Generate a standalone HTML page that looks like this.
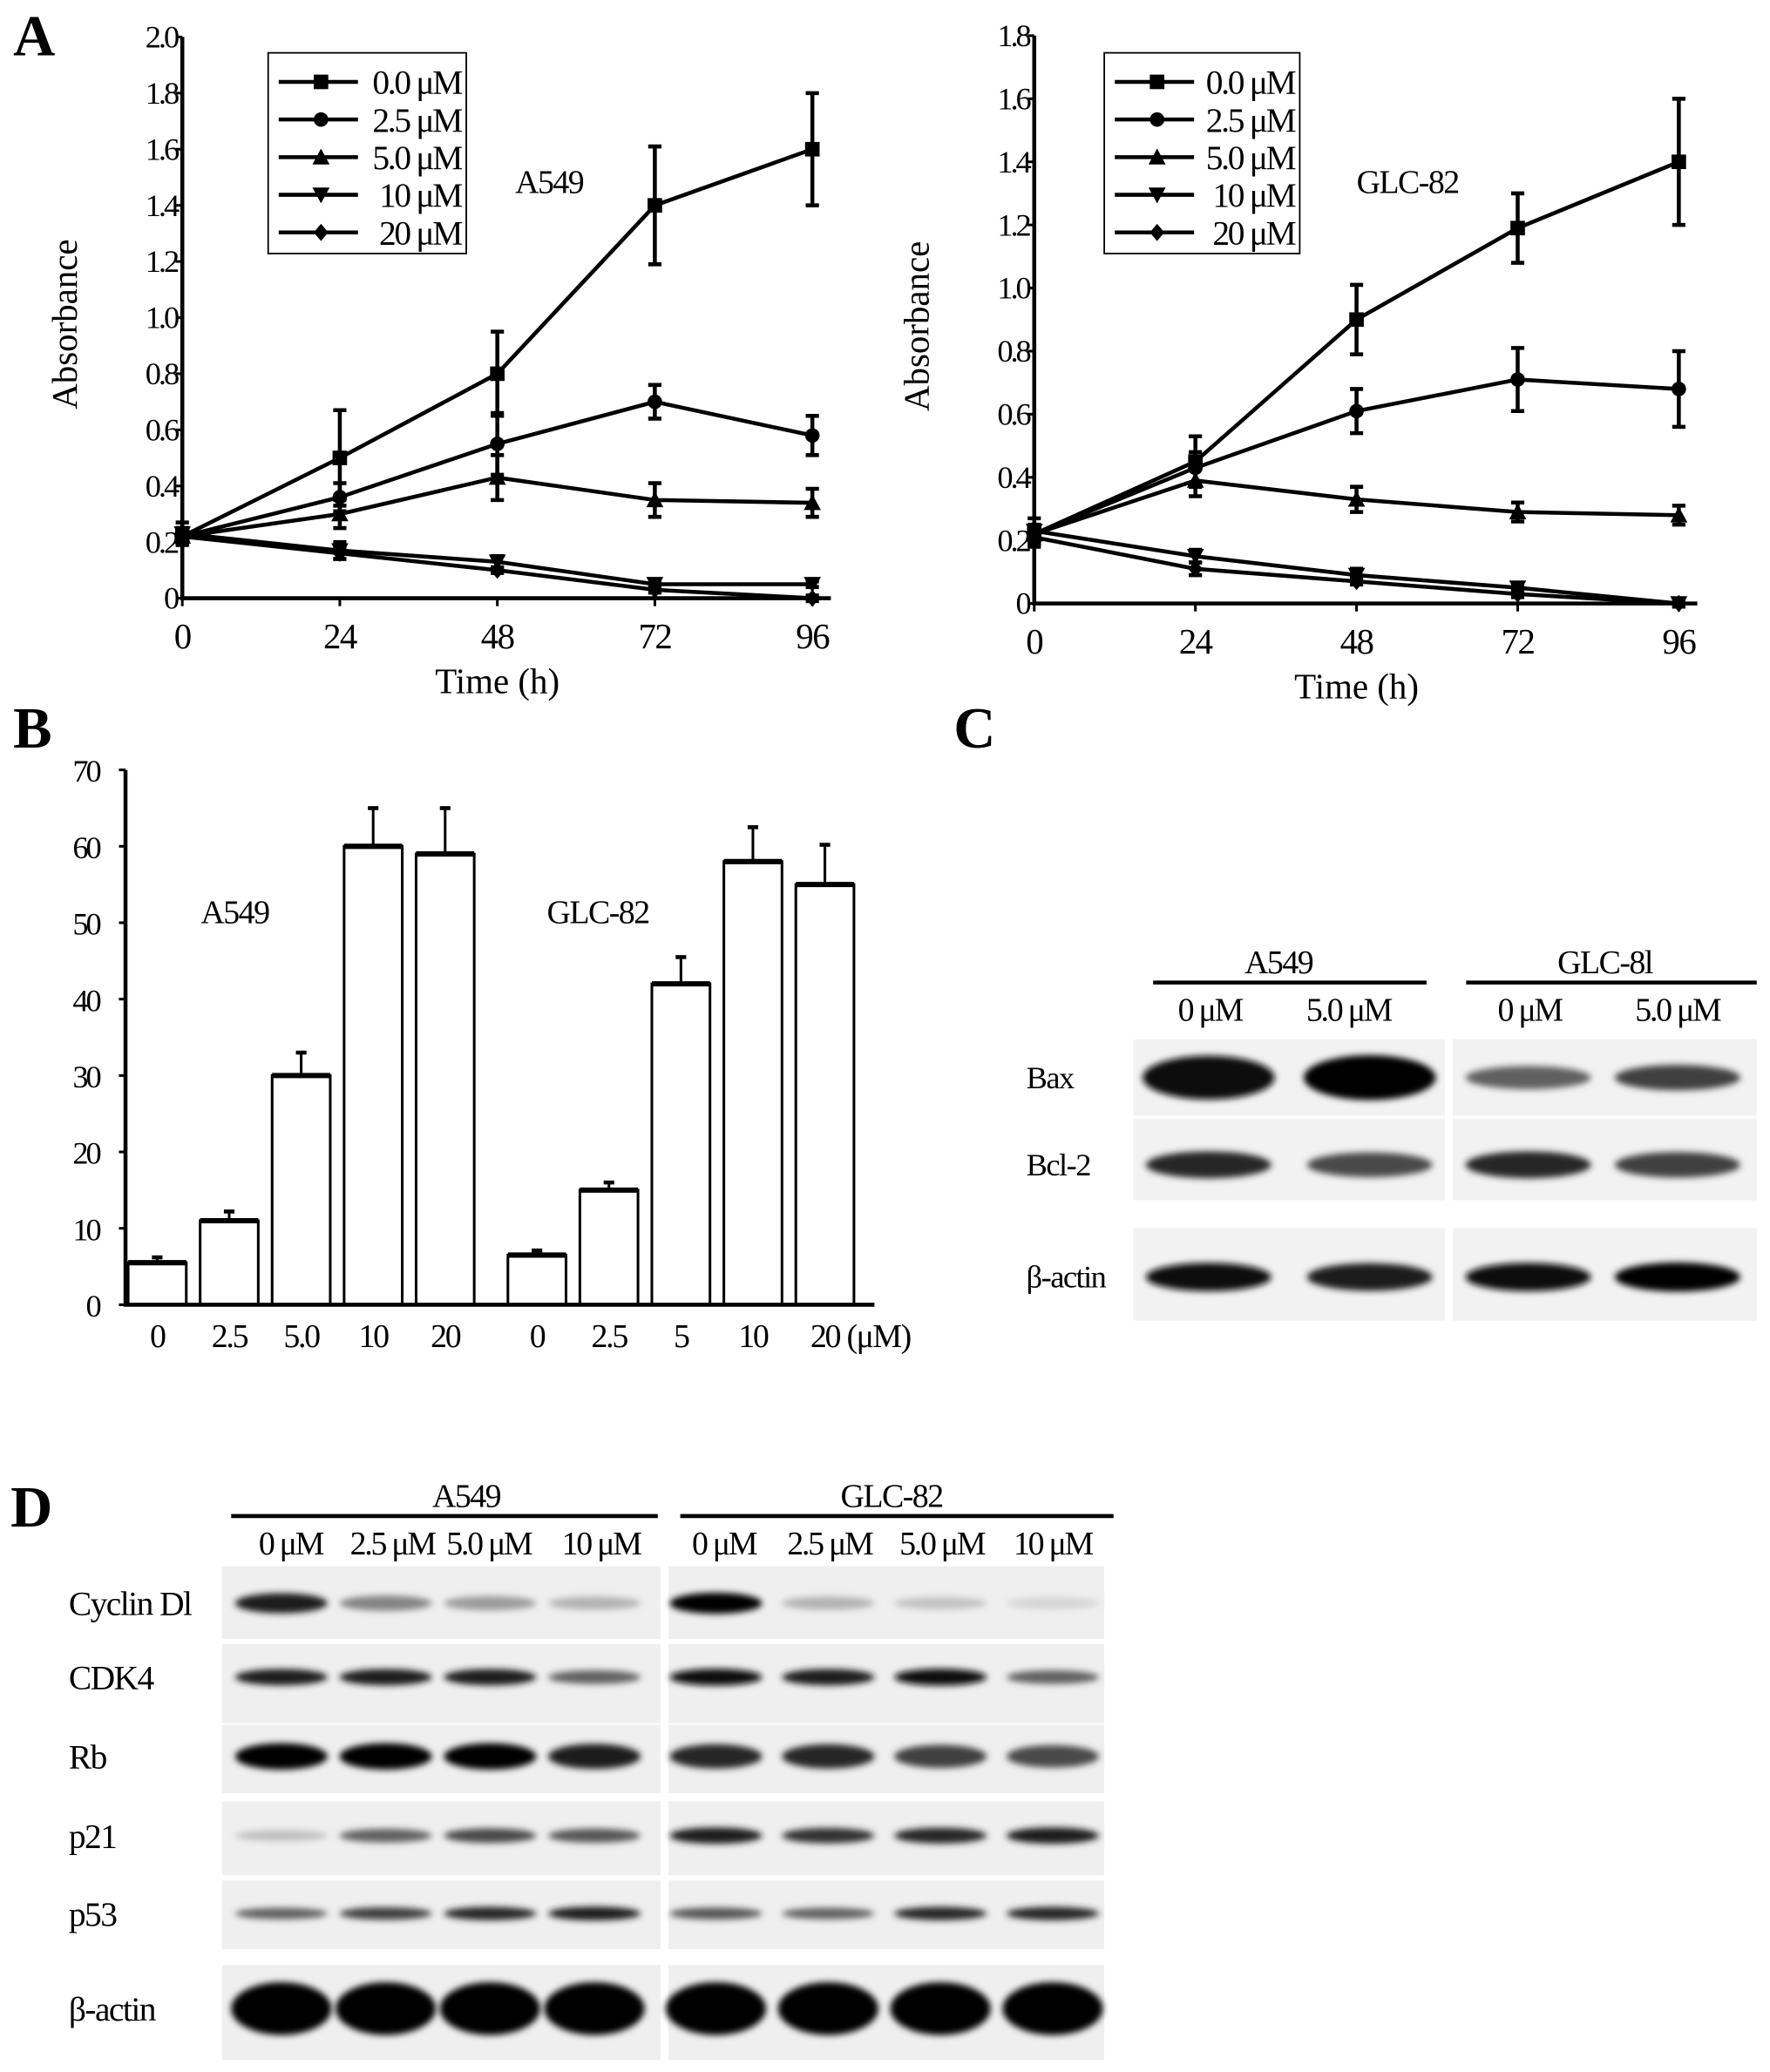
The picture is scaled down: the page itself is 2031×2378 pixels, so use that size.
<!DOCTYPE html>
<html><head><meta charset="utf-8">
<style>
html,body{margin:0;padding:0;background:#fff}
svg{display:block}
text{font-family:"Liberation Serif",serif;fill:#000}
</style></head>
<body>
<svg id="fig" width="2031" height="2378" viewBox="0 0 1340 1569" xmlns="http://www.w3.org/2000/svg">
<defs>
<filter id="blur" x="-20%" y="-60%" width="140%" height="220%"><feGaussianBlur stdDeviation="2.5"/></filter>
</defs>
</svg>
<script>
// ---------- Panel A data ----------
const timeCats = [0, 24, 48, 72, 96];
const doseLabels = ["0.0 μM", "2.5 μM", "5.0 μM", "10 μM", "20 μM"];
const markers = ["square", "circle", "up", "down", "diamond"];
const a549_d0 = [0.22, 0.50, 0.80, 1.40, 1.60];
const a549_d0_err = [0.03, 0.17, 0.15, 0.21, 0.20];
const a549_d25 = [0.22, 0.36, 0.55, 0.70, 0.58];
const a549_d25_err = [0.02, 0.05, 0.11, 0.06, 0.07];
const a549_d5 = [0.22, 0.30, 0.43, 0.35, 0.34];
const a549_d5_err = [0.02, 0.05, 0.08, 0.06, 0.05];
const a549_d10 = [0.23, 0.17, 0.13, 0.05, 0.05];
const a549_d10_err = [0.04, 0.03, 0.02, 0.01, 0.01];
const a549_d20 = [0.22, 0.16, 0.10, 0.03, 0.0];
const a549_d20_err = [0.03, 0.02, 0.01, 0.01, 0.01];
const glc_d0 = [0.22, 0.45, 0.90, 1.19, 1.40];
const glc_d0_err = [0.03, 0.08, 0.11, 0.11, 0.20];
const glc_d25 = [0.22, 0.43, 0.61, 0.71, 0.68];
const glc_d25_err = [0.02, 0.05, 0.07, 0.10, 0.12];
const glc_d5 = [0.22, 0.39, 0.33, 0.29, 0.28];
const glc_d5_err = [0.02, 0.05, 0.04, 0.03, 0.03];
const glc_d10 = [0.23, 0.15, 0.09, 0.05, 0.0];
const glc_d10_err = [0.04, 0.02, 0.02, 0.01, 0.01];
const glc_d20 = [0.21, 0.11, 0.07, 0.03, 0.0];
const glc_d20_err = [0.03, 0.02, 0.01, 0.01, 0.01];
const aLeftTicks = ["0","0.2","0.4","0.6","0.8","1.0","1.2","1.4","1.6","1.8","2.0"];
const aRightTicks = ["0","0.2","0.4","0.6","0.8","1.0","1.2","1.4","1.6","1.8"];
// ---------- Panel B data ----------
const bCats = ["0","2.5","5.0","10","20","0","2.5","5","10","20"];
const bValues = [5.5, 11, 30, 60, 59, 6.5, 15, 42, 58, 55];
const bErrors = [0.7, 1.2, 3, 5, 6, 0.6, 1, 3.5, 4.5, 5.2];
const bTicks = [0,10,20,30,40,50,60,70];
// ---------- Blot intensities ----------
const cRows = ["Bax","Bcl-2","β-actin"];
const cIntensity = [[0.95,1.0,0.6,0.75],[0.85,0.7,0.85,0.75],[0.95,0.9,0.95,1.0]];
const dRows = ["Cyclin Dl","CDK4","Rb","p21","p53","β-actin"];
const dIntensity = [
 [0.9,0.45,0.35,0.25, 1.0,0.25,0.18,0.1],
 [0.9,0.9,0.9,0.6, 0.95,0.9,0.95,0.6],
 [1.0,1.0,1.0,0.9, 0.85,0.85,0.75,0.7],
 [0.2,0.6,0.7,0.65, 0.9,0.8,0.85,0.9],
 [0.6,0.75,0.85,0.9, 0.65,0.6,0.85,0.85],
 [1.0,1.0,1.0,1.0, 1.0,1.0,1.0,1.0]];

const NS="http://www.w3.org/2000/svg";
const svg=document.getElementById('fig');
function el(tag,attrs,parent){const e=document.createElementNS(NS,tag);for(const k in attrs)e.setAttribute(k,attrs[k]);(parent||svg).appendChild(e);return e;}
function txt(x,y,s,size,anchor,parent,extra){const t=el('text',Object.assign({x:x,y:y,'font-size':size,'text-anchor':anchor||'middle'},extra||{}),parent);t.textContent=s;return t;}

[["A",10,42],["B",10,566],["C",722,566],["D",8,1156]].forEach(p=>{
 const t=txt(p[1],p[2],p[0],44,'start',svg,{'font-weight':'bold'});
 
 
});

function marker(g,type,x,y){
 const s=5.5;let m;
 if(type==='square')m=el('rect',{x:x-s,y:y-s,width:2*s,height:2*s},g);
 else if(type==='circle')m=el('circle',{cx:x,cy:y,r:s},g);
 else if(type==='up')m=el('polygon',{points:`${x},${y-s-1} ${x-s-1},${y+s} ${x+s+1},${y+s}`},g);
 else if(type==='down')m=el('polygon',{points:`${x},${y+s+1} ${x-s-1},${y-s} ${x+s+1},${y-s}`},g);
 else m=el('polygon',{points:`${x},${y-s-1} ${x+s},${y} ${x},${y+s+1} ${x-s},${y}`},g);
 m.setAttribute('fill','#000');
 return m;
}

function lineChart(opt){
 const g=el('g',{});
 
 
 const X=t=>opt.x0+(t-0)/96*(opt.x1-opt.x0);
 const Y=v=>opt.y0-v/opt.vmax*(opt.y0-opt.ytop);
 const ax=el('path',{d:`M${opt.x0},${opt.ytop} V${opt.y0} H${opt.x1+14}`,stroke:'#000','stroke-width':3,fill:'none'},g);
 
 
 opt.ticks.forEach((s,i)=>{
  const v=i*0.2;
  el('line',{x1:opt.x0-5,x2:opt.x0,y1:Y(v),y2:Y(v),stroke:'#000','stroke-width':2},g);
  const t=txt(opt.x0-4,Y(v)+8,s,24,'end',g,{'letter-spacing':'-2'});
  
  
 });
 timeCats.forEach(c=>{
  el('line',{x1:X(c),x2:X(c),y1:opt.y0,y2:opt.y0+6,stroke:'#000','stroke-width':2},g);
  const t=txt(X(c),opt.y0+38,String(c),27,'middle',g,{'letter-spacing':'-1'});
  
  
 });
 const xt=txt((opt.x0+opt.x1)/2,opt.y0+72,"Time (h)",27,'middle',g);
 
 
 const yt=txt(0,0,"Absorbance",27,'middle',g,{transform:`translate(${opt.x0-80},${(opt.y0+opt.ytop)/2+5}) rotate(-90)`});
 
 
 opt.series.forEach((s,si)=>{
  const sg=el('g',{},g);
  
  
  el('polyline',{points:s.v.map((v,i)=>X(timeCats[i])+','+Y(v)).join(' '),fill:'none',stroke:'#000','stroke-width':3},sg);
  s.v.forEach((v,i)=>{
   const x=X(timeCats[i]),top=Y(v+s.e[i]),bot=Y(v-s.e[i]);
   el('path',{d:`M${x},${top} V${bot} M${x-5},${top} H${x+5} M${x-5},${bot} H${x+5}`,stroke:'#000','stroke-width':3,fill:'none'},sg);
   marker(sg,markers[si],x,Y(v));
  });
 });
 const lg=el('g',{},g);
 
 
 el('rect',{x:opt.lx,y:40,width:opt.lw,height:152,fill:'#fff',stroke:'#000','stroke-width':1.2},lg);
 doseLabels.forEach((d,i)=>{
  const y=62+i*28.5;
  const eg=el('g',{},lg);
  
  
  el('line',{x1:opt.lx+8,x2:opt.lx+68,y1:y,y2:y,stroke:'#000','stroke-width':3},eg);
  marker(eg,markers[i],opt.lx+40,y);
  txt(opt.lx+opt.lw-4,y+9,d,26,'end',eg,{'letter-spacing':'-1.5'});
 });
 const lab=txt(opt.labx,146,opt.label,25,'start',g,{'letter-spacing':'-1'});
 
 
}

lineChart({name:'chart-a549-absorbance',x0:138,x1:615,y0:453,ytop:28,vmax:2.0,ticks:aLeftTicks,lx:203,lw:150,labx:390,label:'A549',
 series:[{v:a549_d0,e:a549_d0_err},{v:a549_d25,e:a549_d25_err},{v:a549_d5,e:a549_d5_err},{v:a549_d10,e:a549_d10_err},{v:a549_d20,e:a549_d20_err}]});
lineChart({name:'chart-glc82-absorbance',x0:783,x1:1271,y0:457,ytop:27,vmax:1.8,ticks:aRightTicks,lx:836,lw:148,labx:1027,label:'GLC-82',
 series:[{v:glc_d0,e:glc_d0_err},{v:glc_d25,e:glc_d25_err},{v:glc_d5,e:glc_d5_err},{v:glc_d10,e:glc_d10_err},{v:glc_d20,e:glc_d20_err}]});

// ---------- Panel B ----------
(function(){
 const g=el('g',{});
 
 
 const x0=95,y0=988,ytop=583,vmax=70;
 const Y=v=>y0-v/vmax*(y0-ytop);
 const bw=44, step=54.5, gap=15, start=97;
 const X=i=>start+i*step+(i>=5?gap:0);
 bTicks.forEach(v=>{
  el('line',{x1:x0-5,x2:x0,y1:Y(v),y2:Y(v),stroke:'#000','stroke-width':2},g);
  const t=txt(x0-20,Y(v)+9,String(v),24,'end',g,{'letter-spacing':'-2'});
  
  
 });
 bValues.forEach((v,i)=>{
  const bx=X(i);
  const eg=el('g',{},g);
  
  
  el('rect',{x:bx,y:Y(v),width:bw,height:y0-Y(v),fill:'#fff',stroke:'#000','stroke-width':2},eg);
  el('line',{x1:bx,x2:bx+bw,y1:Y(v),y2:Y(v),stroke:'#000','stroke-width':4},eg);
  el('line',{x1:bx+bw/2,x2:bx+bw/2,y1:Y(v),y2:Y(v+bErrors[i]),stroke:'#000','stroke-width':2},eg);
  el('line',{x1:bx+bw/2-4,x2:bx+bw/2+4,y1:Y(v+bErrors[i]),y2:Y(v+bErrors[i]),stroke:'#000','stroke-width':3},eg);
  const t=txt(bx+bw/2,y0+32,bCats[i],25,'middle',g,{'letter-spacing':'-1.5'});
  
  
 });
 el('path',{d:`M${x0},${ytop} V${y0} H${662}`,stroke:'#000','stroke-width':3,fill:'none'},g);
 txt(641,1020,"(μM)",25,'start',g,{'letter-spacing':'-1'});
 const l1=txt(152,699,"A549",25,'start',g,{'letter-spacing':'-1'});
 
 
 const l2=txt(414,699,"GLC-82",25,'start',g,{'letter-spacing':'-1'});
 
 
})();

function blotPanel(g,x,y,w,h,shade){
 const r=el('rect',{x:x,y:y,width:w,height:h,fill:shade||'#ececec'},g);
 
 
}
function band(g,cx,cy,w,h,inten){
 const gray=Math.round(235-inten*230);
 const e=el('ellipse',{cx:cx,cy:cy,rx:w/2,ry:h/2*(0.5+inten*0.5),fill:`rgb(${gray},${gray},${gray})`,filter:'url(#blur)'},g);
 
 
}

// ---------- Panel C ----------
(function(){
 const g=el('g',{});
 
 
 txt(968,737,"A549",25,'middle',g,{'letter-spacing':'-1'});
 el('line',{x1:873,x2:1080,y1:744,y2:744,stroke:'#000','stroke-width':3},g);
 txt(1215,737,"GLC-8l",25,'middle',g,{'letter-spacing':'-1'});
 el('line',{x1:1110,x2:1330,y1:744,y2:744,stroke:'#000','stroke-width':3},g);
 [["0 μM",916],["5.0 μM",1021],["0 μM",1158],["5.0 μM",1270]].forEach(p=>txt(p[1],773,p[0],25,'middle',g,{'letter-spacing':'-1.5'}));
 const rowY=[816,882,967], rowTop=[787,847,930], rowH=[58,62,70];
 const laneX=[915,1037,1157,1270];
 cRows.forEach((r,ri)=>{
  blotPanel(g,858,rowTop[ri],236,rowH[ri],'#f2f2f2');
  blotPanel(g,1100,rowTop[ri],230,rowH[ri],'#f2f2f2');
  const t=txt(777,rowY[ri]+8,r,24,'start',g,{'letter-spacing':'-1'});
  
  
  cIntensity[ri].forEach((v,li)=>band(g,laneX[li],rowY[ri],ri===0&&li<2?100:95,ri===0&&li<2?34:22,v));
 });
})();

// ---------- Panel D ----------
(function(){
 const g=el('g',{});
 
 
 txt(353,1141,"A549",25,'middle',g,{'letter-spacing':'-1'});
 el('line',{x1:175,x2:498,y1:1148,y2:1148,stroke:'#000','stroke-width':3},g);
 txt(675,1141,"GLC-82",25,'middle',g,{'letter-spacing':'-1'});
 el('line',{x1:515,x2:843,y1:1148,y2:1148,stroke:'#000','stroke-width':3},g);
 const lanes=["0 μM","2.5 μM","5.0 μM","10 μM","0 μM","2.5 μM","5.0 μM","10 μM"];
 const laneX=[213,292,371,450,542,627,712,797];
 const labX=[220,297,370,455,548,628,713,797];
 lanes.forEach((s,i)=>txt(labX[i],1177,s,25,'middle',g,{'letter-spacing':'-1.5'}));
 const rowY=[1214,1270,1330,1390,1449,1521];
 const rowTop=[1186,1245,1306,1364,1424,1488];
 const rowH=[55,60,52,56,52,72];
 const bandH=[16,13,20,13,11,40];
 dRows.forEach((r,ri)=>{
  blotPanel(g,168,rowTop[ri],332,rowH[ri],'#efefef');
  blotPanel(g,506,rowTop[ri],330,rowH[ri],'#efefef');
  const t=txt(52,rowY[ri]+9,r,26,'start',g,{'letter-spacing':'-1'});
  
  
  dIntensity[ri].forEach((v,li)=>band(g,laneX[li],rowY[ri],ri===5?76:70,bandH[ri],v));
 });
})();
</script>
</body></html>
